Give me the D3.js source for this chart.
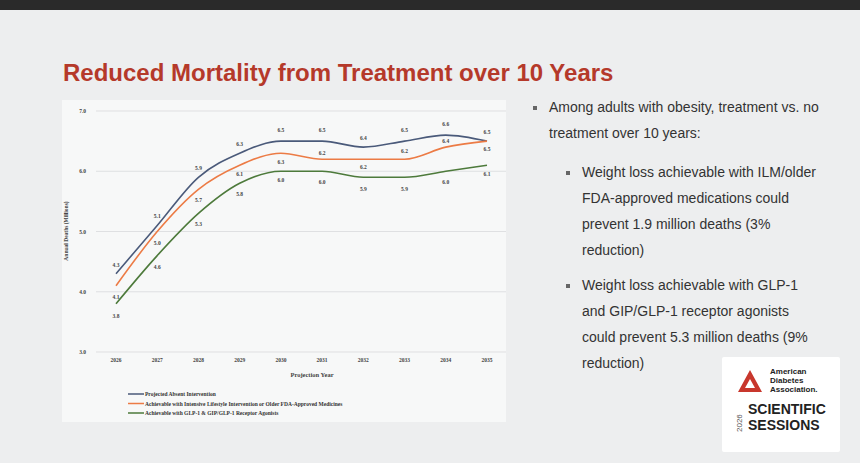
<!DOCTYPE html>
<html><head><meta charset="utf-8">
<script src="https://cdn.jsdelivr.net/npm/d3@7"></script>
<style>
body{margin:0;background:#eeeff0;font-family:"Liberation Sans",Arial,sans-serif;}
</style></head>
<body>
<svg id="chart" width="860" height="463"></svg>
<script>
const years = [2026,2027,2028,2029,2030,2031,2032,2033,2034,2035];
const absent = [4.3,5.1,5.9,6.3,6.5,6.5,6.4,6.5,6.6,6.5];
const lifestyle = [4.1,5.0,5.7,6.1,6.3,6.2,6.2,6.2,6.4,6.5];
const glp1 = [3.8,4.6,5.3,5.8,6.0,6.0,5.9,5.9,6.0,6.1];
const yTicks = [3.0,4.0,5.0,6.0,7.0];
const seriesNames = ["Projected Absent Intervention",
  "Achievable with Intensive Lifestyle Intervention or Older FDA-Approved Medicines",
  "Achievable with GLP-1 & GIP/GLP-1 Receptor Agonists"];

const svg = d3.select("#chart");
svg.append("rect").attr("width",860).attr("height",10).attr("fill","#2a2a2a");
svg.append("rect").attr("y",10).attr("width",860).attr("height",453).attr("fill","#edeeef");
svg.append("text").attr("x",63).attr("y",81).attr("fill","#b5392a")
  .attr("font-size",24).attr("font-weight","bold").text("Reduced Mortality from Treatment over 10 Years");

// chart panel
svg.append("rect").attr("x",62).attr("y",100).attr("width",444).attr("height",322).attr("fill","#f7f8f8");

const x = d3.scalePoint().domain(years).range([116,487]);
const y = d3.scaleLinear().domain([3,7]).range([352,111]);
const serif = "'Liberation Serif',serif";

const g = svg.append("g");
g.selectAll("line.grid").data(yTicks).join("line")
  .attr("x1",96).attr("x2",506).attr("y1",d=>y(d)).attr("y2",d=>y(d))
  .attr("stroke","#d4d6d8").attr("stroke-width",0.7);
g.selectAll("text.yt").data(yTicks).join("text")
  .attr("x",86).attr("y",d=>y(d)+2).attr("text-anchor","end")
  .attr("font-family",serif).attr("font-weight","bold").attr("font-size",5.5).attr("fill","#444")
  .text(d=>d.toFixed(1));
g.selectAll("text.xt").data(years).join("text")
  .attr("x",d=>x(d)).attr("y",362).attr("text-anchor","middle")
  .attr("font-family",serif).attr("font-weight","bold").attr("font-size",5.5).attr("fill","#444")
  .text(d=>d);
g.append("text").attr("x",312).attr("y",377).attr("text-anchor","middle")
  .attr("font-family",serif).attr("font-weight","bold").attr("font-size",6.5).attr("fill","#444").text("Projection Year");
g.append("text").attr("transform","translate(68,231) rotate(-90)").attr("text-anchor","middle")
  .attr("font-family",serif).attr("font-weight","bold").attr("font-size",5.5).attr("fill","#444").text("Annual Deaths (Millions)");

const series = [
  {v:absent,c:"#4a5a7a",dy:[-9,-9,-9,-9,-11,-11,-9,-11,-11,-9]},
  {v:lifestyle,c:"#ec7b45",dy:[11,11,11,9,9,-6,8,-8,-6,8]},
  {v:glp1,c:"#4d7a3b",dy:[12,11,11,11,9,11,12,12,11,9]}
];
const line = d3.line().x((d,i)=>x(years[i])).y(d=>y(d)).curve(d3.curveMonotoneX);
series.forEach((s,k)=>{
  g.append("path").datum(s.v).attr("d",line).attr("fill","none").attr("stroke",s.c).attr("stroke-width",1.6);
  g.selectAll("text.l"+k).data(s.v).join("text")
    .attr("x",(d,i)=>x(years[i])).attr("y",(d,i)=>y(d)+s.dy[i]+2)
    .attr("text-anchor","middle").attr("font-family",serif).attr("font-weight","bold")
    .attr("font-size",5.5).attr("fill","#444").text(d=>d.toFixed(1));
});

// legend
seriesNames.forEach((n,i)=>{
  const ly = 394+i*9.5;
  g.append("line").attr("x1",128).attr("x2",144).attr("y1",ly).attr("y2",ly).attr("stroke",series[i].c).attr("stroke-width",1.5);
  g.append("text").attr("x",145).attr("y",ly+2).attr("font-family",serif).attr("font-weight","bold")
    .attr("font-size",5.5).attr("fill","#333").text(n);
});

// bullets
const tb = svg.append("g").attr("fill","#333").attr("font-size",14);
const bullets = [
  {x:533,bx:549,lines:["Among adults with obesity, treatment vs. no","treatment over 10 years:"],y:112},
  {x:566,bx:582,lines:["Weight loss achievable with ILM/older","FDA-approved medications could","prevent 1.9 million deaths (3%","reduction)"],y:177},
  {x:566,bx:582,lines:["Weight loss achievable with GLP-1","and GIP/GLP-1 receptor agonists","could prevent 5.3 million deaths (9%","reduction)"],y:290}
];
bullets.forEach(b=>{
  tb.append("rect").attr("x",b.x).attr("y",b.y-6).attr("width",4).attr("height",4).attr("fill","#666");
  b.lines.forEach((t,i)=>tb.append("text").attr("x",b.bx).attr("y",b.y+i*26).text(t));
});

// logo
const lg = svg.append("g");
lg.append("rect").attr("x",722).attr("y",357).attr("width",118).attr("height",95).attr("fill","#fff").attr("rx",2);
lg.append("path").attr("d","M738,392 L750,370 L762,392 Z M745,388 L755,388 L750,379 Z").attr("fill","#c8372d").attr("fill-rule","evenodd");
["American","Diabetes","Association."].forEach((t,i)=>lg.append("text").attr("x",770).attr("y",374+i*9)
  .attr("font-size",8).attr("font-weight","bold").attr("fill","#222").text(t));
lg.append("text").attr("transform","translate(742,432) rotate(-90)").attr("font-size",8).attr("fill","#555").text("2026");
lg.append("text").attr("x",748).attr("y",414).attr("font-size",14).attr("font-weight","bold").attr("fill","#222").text("SCIENTIFIC");
lg.append("text").attr("x",748).attr("y",430).attr("font-size",14).attr("font-weight","bold").attr("fill","#222").text("SESSIONS");
</script>
</body></html>
